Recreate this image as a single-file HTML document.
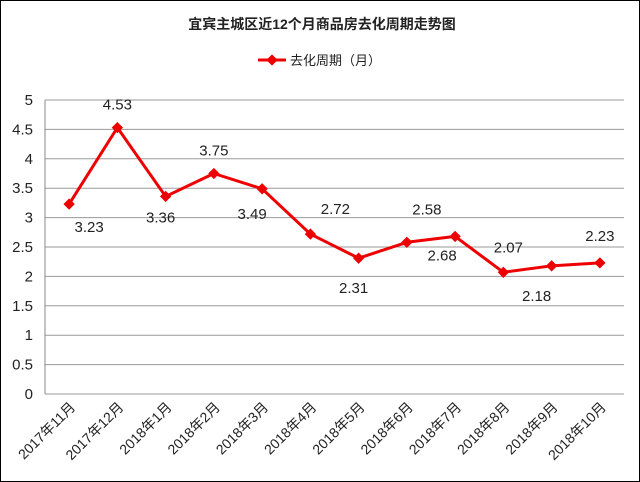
<!DOCTYPE html>
<html><head><meta charset="utf-8"><style>
body{margin:0;background:#fff}
svg{display:block;font-family:"Liberation Sans","Noto Sans CJK SC",sans-serif}
</style></head><body>
<svg id="c" width="640" height="482">
<rect x="0.5" y="0.5" width="639" height="481" fill="#fff" stroke="#000"/>
<text x="322" y="29" text-anchor="middle" font-size="14" font-weight="bold" fill="#222">宜宾主城区近12个月商品房去化周期走势图</text>
<g>
<line x1="258" y1="60" x2="286" y2="60" stroke="#e00" stroke-width="3"/>
<rect x="268" y="56" width="8" height="8" fill="#e00" transform="rotate(45 272 60)"/>
<text x="290" y="65" font-size="13" fill="#222">去化周期（月）</text>
</g>
<g id="grid"></g><g id="axes"></g><g id="series"></g>
</svg>
<script>
const categories=["2017年11月","2017年12月","2018年1月","2018年2月","2018年3月","2018年4月","2018年5月","2018年6月","2018年7月","2018年8月","2018年9月","2018年10月"];
const values=[3.23,4.53,3.36,3.75,3.49,2.72,2.31,2.58,2.68,2.07,2.18,2.23];
const yTicks=[0,0.5,1,1.5,2,2.5,3,3.5,4,4.5,5];
const labelDx=[20,0,-5,0,-10,25,-5,20,-13,5,-15,0];
const labelDy=[28,-18,26,-18,30,-20,35,-28,24,-20,35,-22];
const L=45,R=624,T=100,B=394,yMax=5;
const ns="http://www.w3.org/2000/svg";
const X=i=>L+(i+0.5)*(R-L)/categories.length;
const Y=v=>B-(v/yMax)*(B-T);
function mk(t,a,p){const e=document.createElementNS(ns,t);for(const k in a)e.setAttribute(k,a[k]);p.appendChild(e);return e;}
const grid=document.getElementById('grid'),axes=document.getElementById('axes'),series=document.getElementById('series');
yTicks.forEach(v=>{
 const g=mk('line',{x1:L,x2:R,y1:Y(v),y2:Y(v),stroke:'#9a9a9a','stroke-width':1},grid);
 
 
 const t=mk('text',{x:L-12,y:Y(v)+5,'text-anchor':'end','font-size':15,fill:'#222'},axes);
 t.textContent=v;
 
 
});
const ax=mk('line',{x1:L,x2:L,y1:T,y2:B,stroke:'#888'},axes);


categories.forEach((c,i)=>{
 const x=X(i)+7,y=B+14;
 const t=mk('text',{x:x,y:y,'text-anchor':'end','font-size':14,fill:'#222',transform:`rotate(-45 ${x} ${y})`},axes);
 t.textContent=c;
 
 
});
const line=mk('polyline',{points:values.map((v,i)=>X(i)+','+Y(v)).join(' '),fill:'none',stroke:'#e00','stroke-width':3,'stroke-linejoin':'round'},series);


values.forEach((v,i)=>{
 const x=X(i),y=Y(v);
 const m=mk('rect',{x:x-4,y:y-4,width:8,height:8,fill:'#e00',transform:`rotate(45 ${x} ${y})`},series);
 
 
 const t=mk('text',{x:x+labelDx[i],y:y+labelDy[i],'text-anchor':'middle','font-size':15,fill:'#222'},series);
 t.textContent=v.toFixed(2);
 
 
});
</script>
</body></html>
